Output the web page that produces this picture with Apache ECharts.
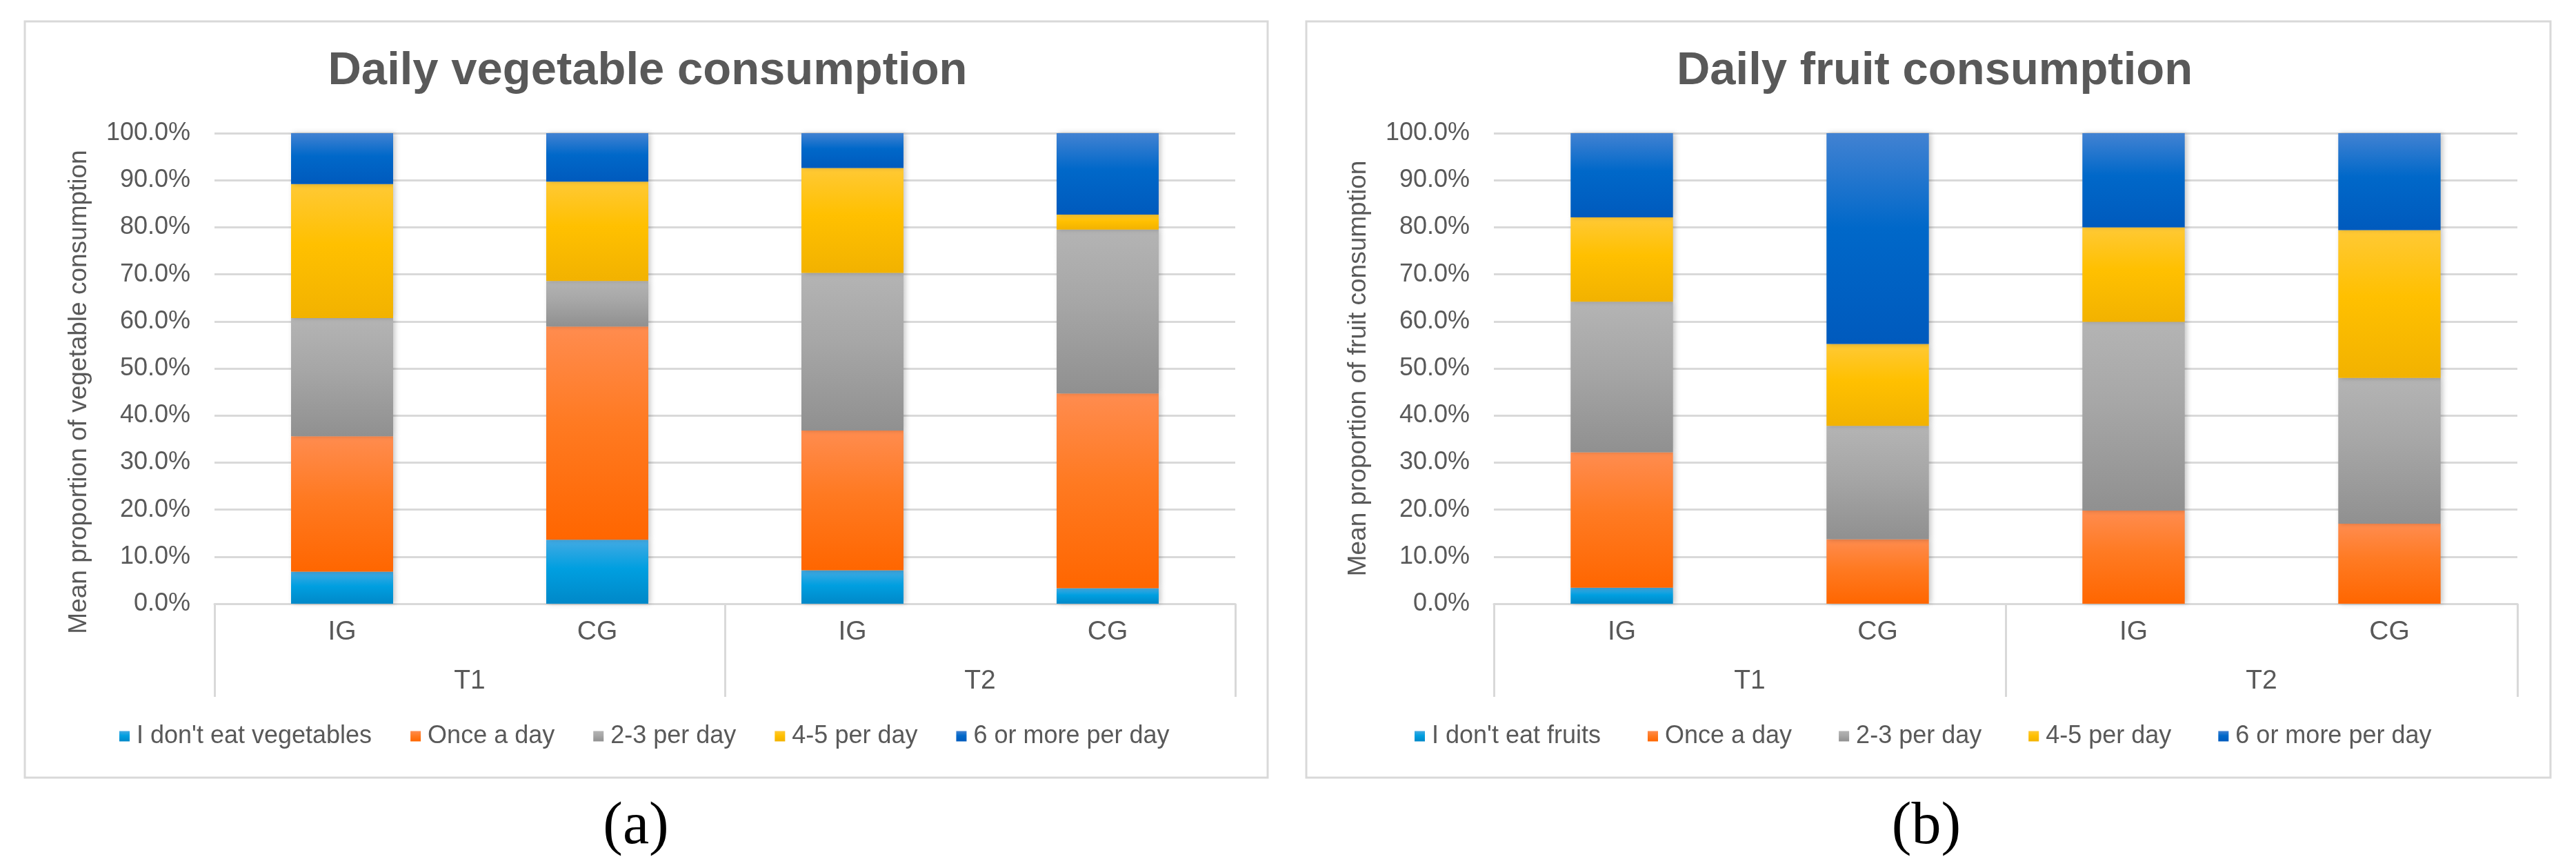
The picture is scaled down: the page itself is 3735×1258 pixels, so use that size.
<!DOCTYPE html>
<html lang="en">
<head>
<meta charset="UTF-8">
<title>Daily vegetable and fruit consumption</title>
<script src="https://cdn.jsdelivr.net/npm/echarts@6/dist/echarts.min.js"></script>
<style>
  html, body { margin: 0; background: #fff; }
  #chart { width: 3735px; height: 1258px; }
</style>
</head>
<body>
<div id="chart"></div>
<script>
// categories
var groups = ['IG', 'CG', 'IG', 'CG']
var periods = ['T1', 'T2']
var yTicks = { min: 0, max: 100, interval: 10 }

// (a) vegetables, % per segment
var vegNames = ["I don't eat vegetables", 'Once a day', '2-3 per day', '4-5 per day', '6 or more per day']
var vegNone = [6.8, 13.6, 7.1, 3.3]
var vegOnce = [28.8, 45.3, 29.7, 41.4]
var veg23 = [25.1, 9.7, 33.5, 34.8]
var veg45 = [28.5, 21.1, 22.3, 3.2]
var veg6 = [10.8, 10.3, 7.4, 17.3]

// (b) fruits, % per segment
var fruitNames = ["I don't eat fruits", 'Once a day', '2-3 per day', '4-5 per day', '6 or more per day']
var fruitNone = [3.4, 0, 0, 0]
var fruitOnce = [28.8, 13.7, 19.8, 17.0]
var fruit23 = [32.0, 24.1, 40.1, 31.0]
var fruit45 = [17.9, 17.4, 20.1, 31.4]
var fruit6 = [17.9, 44.8, 20.0, 20.6]

var FONT = "'Liberation Sans', Arial, sans-serif"
var TXT = '#595959'
var GRID_LINE = '#d9d9d9'

// excel-like gradient fills, one per segment kind
var fills = [
    ['#43aae3', '#009fe0', '#0088c8'],
    ['#ff8c4f', '#ff7a22', '#ff6600'],
    ['#b4b4b4', '#a6a6a6', '#909090'],
    ['#ffc935', '#ffc000', '#f2b200'],
    ['#4282d2', '#0068c9', '#005abd']
]

function grad(c) {
    return new echarts.graphic.LinearGradient(0, 0, 0, 1, [
        { offset: 0, color: c[0] },
        { offset: 0.45, color: c[1] },
        { offset: 1, color: c[2] }
    ])
}

function makeSeries(names, lists, xIdx, yIdx, stack) {
    return lists.map(function (vals, i) {
        return {
            name: names[i],
            type: 'bar',
            stack: stack,
            xAxisIndex: xIdx,
            yAxisIndex: yIdx,
            barWidth: '40%',
            data: vals,
            itemStyle: {
                color: grad(fills[i]),
                shadowColor: 'rgba(0,0,0,0.22)',
                shadowBlur: 7,
                shadowOffsetX: 3
            },
            emphasis: { disabled: true }
        }
    })
}

function catAxis(gridIndex) {
    return {
        type: 'category',
        gridIndex: gridIndex,
        position: 'bottom',
        data: groups,
        axisLine: { lineStyle: { color: GRID_LINE, width: 3 } },
        axisTick: { show: false },
        axisLabel: { color: TXT, fontSize: 39, fontFamily: FONT, margin: 22 }
    }
}

function periodAxis(gridIndex) {
    return {
        type: 'category',
        gridIndex: gridIndex,
        position: 'bottom',
        data: periods,
        axisLine: { show: false },
        axisTick: { show: true, length: 135, interval: 0, lineStyle: { color: GRID_LINE, width: 3 } },
        axisLabel: { color: TXT, fontSize: 39, fontFamily: FONT, margin: 93 },
        splitLine: { show: false }
    }
}

function valAxis(gridIndex, name, namePad) {
    return {
        type: 'value',
        gridIndex: gridIndex,
        min: yTicks.min,
        max: yTicks.max,
        interval: yTicks.interval,
        name: name,
        nameLocation: 'middle',
        nameGap: 178,
        nameTextStyle: { color: TXT, fontSize: 37, fontFamily: FONT, padding: namePad },
        axisLine: { show: false },
        axisTick: { show: false },
        axisLabel: {
            color: TXT, fontSize: 36, fontFamily: FONT, margin: 35,
            formatter: function (v) { return v.toFixed(1) + '%' }
        },
        splitLine: { lineStyle: { color: GRID_LINE, width: 3 } }
    }
}

function legendAt(names, left, gap) {
    return {
        data: names,
        left: left,
        top: 1049,
        padding: 0,
        itemWidth: 15,
        itemHeight: 15,
        itemGap: gap,
        icon: 'rect',
        selectedMode: false,
        textStyle: { color: TXT, fontSize: 36, fontFamily: FONT, padding: [0, 0, 0, 5] }
    }
}

var chart = echarts.init(document.getElementById('chart'))

var option = {
    backgroundColor: '#fff',
    animation: false,
    title: [
        { text: 'Daily vegetable consumption', left: 939, top: 70, padding: 0, textAlign: 'center',
          textStyle: { color: TXT, fontSize: 67, fontWeight: 'bold', fontFamily: FONT } },
        { text: 'Daily fruit consumption', left: 2805, top: 70, padding: 0, textAlign: 'center',
          textStyle: { color: TXT, fontSize: 67, fontWeight: 'bold', fontFamily: FONT } }
    ],
    legend: [
        legendAt(vegNames, 173, 56),
        legendAt(fruitNames, 2051, 68)
    ],
    grid: [
        { left: 311, top: 193, width: 1480, height: 682 },
        { left: 2166, top: 193, width: 1484, height: 682 }
    ],
    xAxis: [catAxis(0), periodAxis(0), catAxis(1), periodAxis(1)],
    yAxis: [
        valAxis(0, 'Mean proportion of vegetable consumption', [0, 68, 0, 0]),
        valAxis(1, 'Mean proportion of fruit consumption', 0)
    ],
    series: []
        .concat(makeSeries(vegNames, [vegNone, vegOnce, veg23, veg45, veg6], 0, 0, 'veg'))
        .concat(makeSeries(fruitNames, [fruitNone, fruitOnce, fruit23, fruit45, fruit6], 2, 1, 'fruit')),
    graphic: [
        { type: 'rect', shape: { x: 36, y: 31, width: 1802, height: 1096 },
          style: { fill: null, stroke: GRID_LINE, lineWidth: 3 }, silent: true },
        { type: 'rect', shape: { x: 1894, y: 31, width: 1804, height: 1096 },
          style: { fill: null, stroke: GRID_LINE, lineWidth: 3 }, silent: true },
        { type: 'text', x: 922, y: 1199, silent: true,
          style: { text: '(a)', fill: '#000', font: "86px 'Liberation Serif', 'Times New Roman', serif",
                   textAlign: 'center', textVerticalAlign: 'middle' } },
        { type: 'text', x: 2793, y: 1199, silent: true,
          style: { text: '(b)', fill: '#000', font: "86px 'Liberation Serif', 'Times New Roman', serif",
                   textAlign: 'center', textVerticalAlign: 'middle' } }
    ]
}

chart.setOption(option)
</script>
</body>
</html>
